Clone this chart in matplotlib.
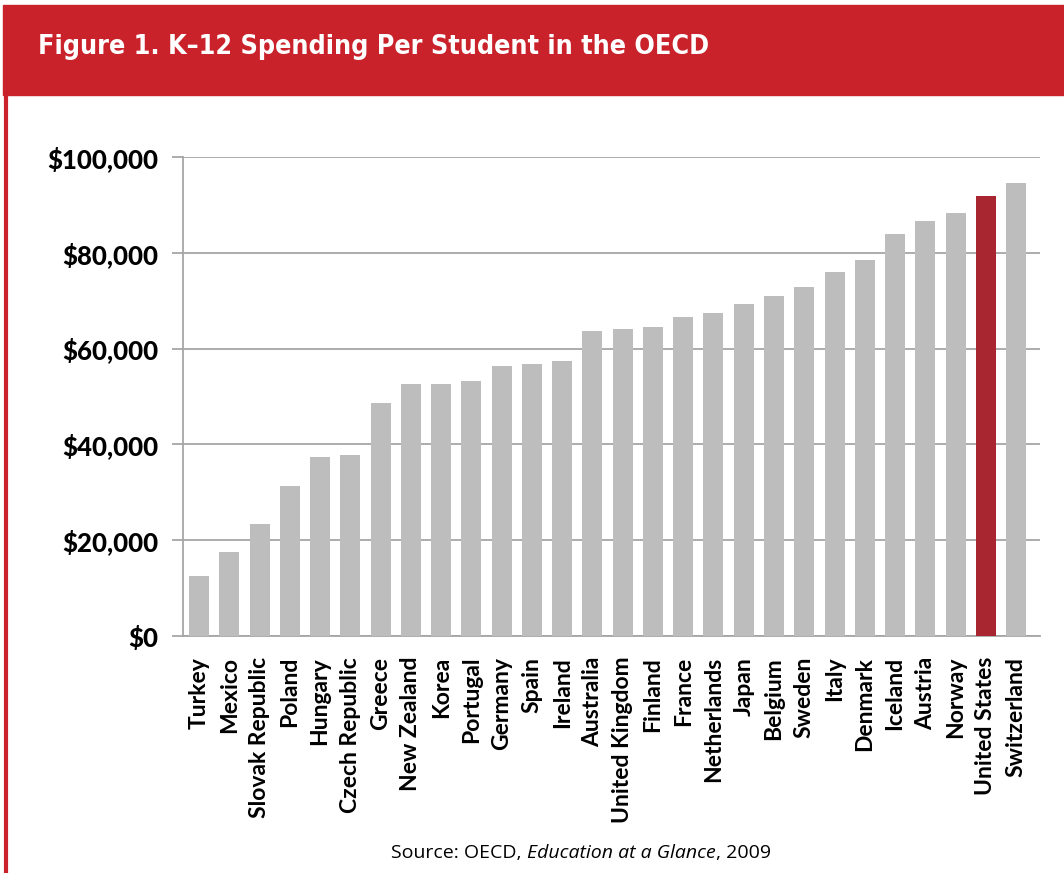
import matplotlib.pyplot as plt
from matplotlib.patches import Rectangle
from matplotlib.lines import Line2D
from matplotlib.ticker import FuncFormatter

countries = ["Turkey", "Mexico", "Slovak Republic", "Poland", "Hungary",
             "Czech Republic", "Greece", "New Zealand", "Korea", "Portugal",
             "Germany", "Spain", "Ireland", "Australia", "United Kingdom",
             "Finland", "France", "Netherlands", "Japan", "Belgium", "Sweden",
             "Italy", "Denmark", "Iceland", "Austria", "Norway",
             "United States", "Switzerland"]
spending = [12500, 17500, 23400, 31300, 37400, 37800, 48600, 52600, 52600,
            53200, 56400, 56800, 57400, 63700, 64100, 64500, 66600, 67400,
            69300, 71000, 72900, 76000, 78500, 83900, 86600, 88300, 91900,
            94600]
yticks = [0, 20000, 40000, 60000, 80000, 100000]
highlight = "United States"

RED = "#C9222B"
GRAY = "#BDBDBD"
DARK_RED = "#A8262F"
GRID = "#A6A6A6"
LABEL_FONT = ["Lato", "DejaVu Sans"]

fig = plt.figure(figsize=(10.64, 8.73), dpi=100)

# red header band and left border
fig.patches.append(Rectangle((3 / 1064, 1 - 95 / 873), 1, 90 / 873,
                             transform=fig.transFigure, color=RED, zorder=0))
fig.lines.append(Line2D([5.5 / 1064, 5.5 / 1064], [0, 1 - 95 / 873],
                        transform=fig.transFigure, color=RED, lw=3))
title = fig.text(38 / 1064, 1 - 47 / 873, "Figure 1. K\u201312 Spending Per Student in the OECD",
                 color="white", fontsize=21, fontweight="bold", fontstretch="condensed",
                 family=["DejaVu Sans"], va="center")

ax = fig.add_axes([183 / 1064, 1 - 636 / 873, (1040 - 183) / 1064, (636 - 157) / 873])
colors = [DARK_RED if c == highlight else GRAY for c in countries]
x = range(len(countries))
ax.bar(x, spending, width=0.66, color=colors, zorder=3)

ax.set_ylim(0, 100000)
ax.set_xlim(-0.53, len(countries) - 1 + 0.79)
ax.set_yticks(yticks)
ax.yaxis.set_major_formatter(FuncFormatter(lambda v, p: "${:,.0f}".format(v)))
ax.set_xticks(list(x))
ax.set_xticklabels(countries, rotation=90)
ax.grid(axis="y", color=GRID, lw=1.3, zorder=0)
for s in ["top", "right"]:
    ax.spines[s].set_visible(False)
ax.spines["left"].set_color(GRID)
ax.spines["bottom"].set_color(GRID)
ax.spines["left"].set_linewidth(1.3)
ax.spines["bottom"].set_linewidth(1.3)
ax.tick_params(axis="y", length=8, width=1.3, color=GRID, pad=10)
ax.tick_params(axis="x", length=0, pad=15)
for t in ax.get_yticklabels():
    t.set_family(LABEL_FONT)
    t.set_fontweight("black")
    t.set_fontsize(18.5)
for t in ax.get_xticklabels():
    t.set_family(LABEL_FONT)
    t.set_fontweight("bold")
    t.set_fontsize(16.5)

# source line with italic title
fig.canvas.draw()
r = fig.canvas.get_renderer()
tw = title.get_window_extent(r).width
if tw > 700:
    title.set_fontsize(21 * 672 / tw)
parts = [("Source: OECD, ", "normal"), ("Education at a Glance", "italic"), (", 2009", "normal")]
texts = []
widths = []
for s, st in parts:
    t = fig.text(0, 1 - 853 / 873, s, fontsize=14, style=st, family=["Open Sans", "DejaVu Sans"],
                 va="center", ha="left")
    texts.append(t)
    widths.append(t.get_window_extent(r).width)
start = 581 - sum(widths) / 2
for t, w in zip(texts, widths):
    t.set_x(start / 1064)
    start += w

fig.savefig("out.png", dpi=100)
